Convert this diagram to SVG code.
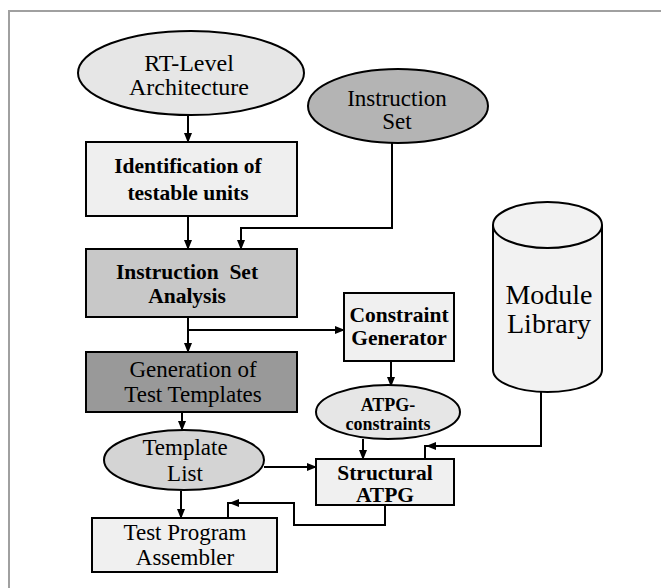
<svg xmlns="http://www.w3.org/2000/svg" width="661" height="588" viewBox="0 0 661 588">
<style>
.s{stroke:#000;stroke-width:2}
.c{fill:none;stroke:#000;stroke-width:2}
text{font-family:'Liberation Serif','Times New Roman',serif;font-size:23px;text-anchor:middle;fill:#000}
text.b{font-weight:bold;font-size:21.5px}
text.sm{font-size:18px}
text.lg{font-size:28px}
text.rt{font-size:24px}
.ah{fill:#000}
</style>
<defs>
<marker id="a" markerWidth="10" markerHeight="10" refX="9" refY="5" orient="auto" markerUnits="userSpaceOnUse">
<path d="M0,1 L10,5 L0,9 Z" fill="#000"/>
</marker>
</defs>
<rect width="661" height="588" fill="#fff"/>
<path d="M9,588 V11 H661" fill="none" stroke="#a0a0a0" stroke-width="2"/>

<g id="connectors">
<path class="c" d="M188,115 V142" marker-end="url(#a)"/>
<path class="c" d="M188,216 V249" marker-end="url(#a)"/>
<path class="c" d="M392,143 V228 H241 V249" marker-end="url(#a)"/>
<path class="c" d="M188,317 V352" marker-end="url(#a)"/>
<path class="c" d="M188,330 H344" marker-end="url(#a)"/>
<path class="c" d="M182,412 V430" marker-end="url(#a)"/>
<path class="c" d="M391,361 V386" marker-end="url(#a)"/>
<path class="c" d="M363,439 V459" marker-end="url(#a)"/>
<path class="c" d="M264,467 H316" marker-end="url(#a)"/>
<path class="c" d="M181,491 V518" marker-end="url(#a)"/>
<path class="c" d="M541,392 V446 H425 V459"/>
<path class="ah" d="M426,446 L436,442 L436,450 Z"/>
<path class="c" d="M385,505 V525 H294 V503 H228 V518"/>
<path class="ah" d="M229,503 L239,499 L239,507 Z"/>
</g>

<g id="rt-level">
<ellipse class="s" cx="191" cy="73" rx="113" ry="42" fill="#e6e6e6"/>
<text class="rt" x="189" y="71">RT-Level</text>
<text class="rt" x="189" y="95">Architecture</text>
</g>

<g id="instruction-set">
<ellipse class="s" cx="398" cy="106" rx="90" ry="37" fill="#b4b4b4"/>
<text x="397" y="106">Instruction</text>
<text x="397" y="129">Set</text>
</g>

<g id="identification">
<rect class="s" x="86" y="142" width="211" height="74" fill="#efefef"/>
<text class="b" x="188" y="173">Identification of</text>
<text class="b" x="188" y="200">testable units</text>
</g>

<g id="isa">
<rect class="s" x="86" y="249" width="211" height="68" fill="#c8c8c8"/>
<text class="b" x="187" y="279" xml:space="preserve">Instruction  Set</text>
<text class="b" x="187" y="303">Analysis</text>
</g>

<g id="generation">
<rect class="s" x="86" y="352" width="211" height="60" fill="#999999"/>
<text x="193" y="377">Generation of</text>
<text x="193" y="402">Test Templates</text>
</g>

<g id="constraint-generator">
<rect class="s" x="344" y="293" width="110" height="68" fill="#f0f0f0"/>
<text class="b" x="399" y="322">Constraint</text>
<text class="b" x="399" y="345">Generator</text>
</g>

<g id="module-library">
<path class="s" d="M493,225 V370 A54.5,22 0 0 0 602,370 V225" fill="#f2f2f2"/>
<ellipse class="s" cx="547.5" cy="225" rx="54.5" ry="23" fill="#f2f2f2"/>
<text class="lg" x="549" y="304">Module</text>
<text class="lg" x="549" y="333">Library</text>
</g>

<g id="atpg-constraints">
<ellipse class="s" cx="388" cy="412" rx="72" ry="27" fill="#e6e6e6"/>
<text class="b sm" x="388" y="411">ATPG-</text>
<text class="b sm" x="388" y="430">constraints</text>
</g>

<g id="template-list">
<ellipse class="s" cx="184" cy="460" rx="80" ry="30" fill="#d4d4d4"/>
<text x="185" y="455">Template</text>
<text x="185" y="481">List</text>
</g>

<g id="structural-atpg">
<rect class="s" x="316" y="459" width="138" height="46" fill="#f0f0f0"/>
<text class="b" x="385" y="480">Structural</text>
<text class="b" x="385" y="502">ATPG</text>
</g>

<g id="test-program-assembler">
<rect class="s" x="92" y="518" width="185" height="54" fill="#f0f0f0"/>
<text x="185" y="540">Test Program</text>
<text x="185" y="565">Assembler</text>
</g>
</svg>
